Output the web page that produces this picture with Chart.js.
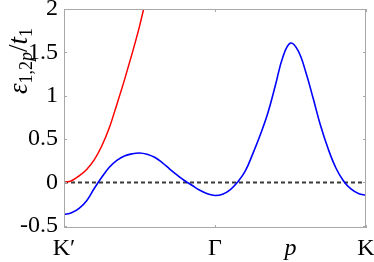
<!DOCTYPE html>
<html>
<head>
<meta charset="utf-8">
<script src="https://cdn.jsdelivr.net/npm/chart.js@4/dist/chart.umd.min.js"></script>
<style>
html,body{margin:0;padding:0;background:#fff;}
#wrap{width:374px;height:262px;}
</style>
</head>
<body>
<div id="wrap"><canvas id="c" width="374" height="262"></canvas></div>
<script>
// k-path positions (K' = 0, Γ = 0.5, p = 0.75, K = 1)
const xTickValues = [0, 0.5, 0.75, 1];
const xTickLabels = ["K\u2032", "\u0393", "p", "K"];
const yTickValues = [-0.5, 0, 0.5, 1, 1.5, 2];

// red band (rises out of the window)
const redX = [0, 0.025, 0.05, 0.075, 0.1, 0.125, 0.15, 0.175, 0.2, 0.225, 0.25, 0.275];
const redY = [0, 0.02, 0.075, 0.15, 0.26, 0.42, 0.63, 0.90, 1.18, 1.48, 1.80, 2.17];

// blue band
const blueX = [0, 0.025, 0.05, 0.075, 0.1, 0.125, 0.15, 0.175, 0.2, 0.225, 0.25, 0.275, 0.3, 0.325, 0.35, 0.375, 0.4, 0.425, 0.45, 0.475, 0.5,
               0.525, 0.55, 0.575, 0.6, 0.625, 0.65, 0.675, 0.7, 0.725, 0.75, 0.775, 0.8, 0.825, 0.85, 0.875, 0.9, 0.925, 0.95, 0.975, 1];
const blueY = [-0.37, -0.35, -0.30, -0.21, -0.07, 0.06, 0.175, 0.255, 0.305, 0.33, 0.34, 0.325, 0.29, 0.23, 0.155, 0.085, 0.02, -0.035, -0.09, -0.13, -0.15,
               -0.135, -0.085, 0.005, 0.13, 0.33, 0.55, 0.80, 1.12, 1.45, 1.607, 1.52, 1.28, 0.97, 0.65, 0.385, 0.17, 0.02, -0.075, -0.127, -0.148];

// dashed zero reference
const zeroX = [0, 1];
const zeroY = [0, 0];

const pts = (xs, ys) => xs.map((x, i) => ({x: x, y: ys[i]}));

const FRAME = '#a8a8a8';
const SERIF = '"Times New Roman", "Liberation Serif", Tinos, serif';

const framePlugin = {
  id: 'frame',
  afterDatasetsDraw(chart) {
    const {ctx, chartArea: a, scales} = chart;
    ctx.save();
    ctx.strokeStyle = FRAME;
    ctx.lineWidth = 1;
    ctx.strokeRect(Math.round(a.left) + 0.5, Math.round(a.top) + 0.5, Math.round(a.right - a.left) - 1, Math.round(a.bottom - a.top) - 1);
    const tl = 3;
    ctx.beginPath();
    yTickValues.forEach(v => {
      const y = Math.round(scales.y.getPixelForValue(v)) + 0.5;
      ctx.moveTo(a.left, y); ctx.lineTo(a.left + tl, y);
      ctx.moveTo(a.right, y); ctx.lineTo(a.right - tl, y);
    });
    [0, 0.5, 1].forEach(v => {
      const x = Math.round(scales.x.getPixelForValue(v)) + 0.5;
      ctx.moveTo(x, a.bottom); ctx.lineTo(x, a.bottom - tl);
      ctx.moveTo(x, a.top); ctx.lineTo(x, a.top + tl);
    });
    ctx.stroke();
    ctx.restore();
  },
  afterDraw(chart) {
    // y-axis title  ε_{1,2p}/t_1
    const {ctx} = chart;
    const big = 27, small = 18;
    const parts = [
      {t: '\u03b5', f: 'italic ' + big + 'px ' + SERIF, dy: 0},
      {t: '1,2', f: small + 'px ' + SERIF, dy: 5},
      {t: 'p', f: 'italic ' + small + 'px ' + SERIF, dy: 5},
      {t: '/', f: big + 'px ' + SERIF, dy: 0},
      {t: 't', f: 'italic ' + big + 'px ' + SERIF, dy: 0},
      {t: '1', f: small + 'px ' + SERIF, dy: 5}
    ];
    ctx.save();
    let total = 0;
    parts.forEach(p => { ctx.font = p.f; p.w = ctx.measureText(p.t).width; total += p.w; });
    ctx.translate(27, 61);
    ctx.rotate(-Math.PI / 2);
    ctx.fillStyle = '#000';
    ctx.textBaseline = 'alphabetic';
    let u = -total / 2;
    parts.forEach(p => { ctx.font = p.f; ctx.fillText(p.t, u, p.dy); u += p.w; });
    ctx.restore();
  }
};

new Chart(document.getElementById('c'), {
  type: 'line',
  data: {
    datasets: [
      {data: pts(zeroX, zeroY), borderColor: '#3a3a3a', borderWidth: 2, borderDash: [4, 3], pointRadius: 0, order: 3},
      {data: pts(redX, redY), borderColor: '#ff0000', borderWidth: 1.5, pointRadius: 0, cubicInterpolationMode: 'monotone', order: 2},
      {data: pts(blueX, blueY), borderColor: '#0000ff', borderWidth: 1.6, pointRadius: 0, tension: 0.4, order: 1}
    ]
  },
  options: {
    responsive: false,
    animation: false,
    devicePixelRatio: 1,
    layout: {padding: {top: 9, right: 8, left: 0, bottom: 0}},
    plugins: {legend: {display: false}, tooltip: {enabled: false}},
    scales: {
      x: {
        type: 'linear', min: 0, max: 1,
        grid: {display: false, drawTicks: false},
        border: {display: false},
        afterBuildTicks: s => { s.ticks = xTickValues.map(v => ({value: v})); },
        afterFit: s => { s.height = 34; s.paddingLeft = 0; s.paddingRight = 0; },
        ticks: {
          autoSkip: false, maxRotation: 0, padding: 6, color: '#000',
          font: ctx => ({family: SERIF, size: 24, style: (ctx.tick && ctx.tick.value === 0.75) ? 'italic' : 'normal'}),
          callback: v => { const i = xTickValues.indexOf(v); return i >= 0 ? xTickLabels[i] : ''; }
        }
      },
      y: {
        type: 'linear', min: -0.525, max: 2,
        grid: {display: false, drawTicks: false},
        border: {display: false},
        afterBuildTicks: s => { s.ticks = yTickValues.map(v => ({value: v})); },
        afterFit: s => { s.width = 64; s.paddingTop = 0; s.paddingBottom = 0; },
        ticks: {
          autoSkip: false, padding: 6, color: '#000',
          font: {family: SERIF, size: 24},
          callback: v => String(v)
        }
      }
    }
  },
  plugins: [framePlugin]
});
</script>
</body>
</html>
